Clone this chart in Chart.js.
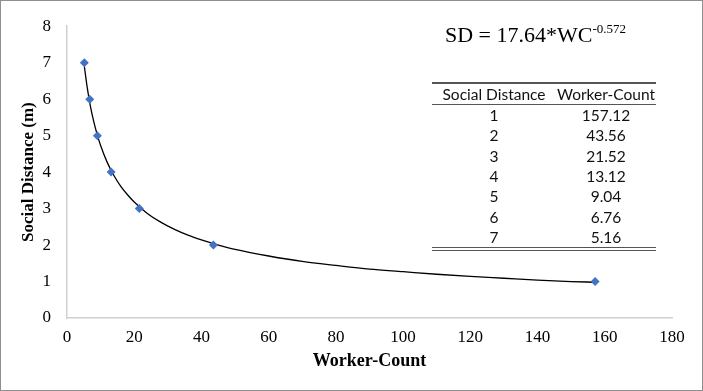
<!DOCTYPE html>
<html>
<head>
<meta charset="utf-8">
<script src="https://cdn.jsdelivr.net/npm/chart.js@4.4.1/dist/chart.umd.min.js"></script>
<style>
  body { margin: 0; background: #fff; }
  #wrap { position: relative; width: 703px; height: 391px; }
  #grafico { position: absolute; left: 0; top: 0; }
  #moldura { position: absolute; inset: 0; border: 1px solid #8f8f8f; box-sizing: border-box; pointer-events: none; }
  #equacao { position: absolute; left: 445px; top: 22px; font-family: "Liberation Serif", serif; font-size: 22px; color: #000; white-space: nowrap; }
  #equacao sup { font-size: 13px; vertical-align: 0; position: relative; top: -9px; }
  #tabela { position: absolute; left: 432px; top: 82px; width: 224px; border-collapse: collapse;
            font-family: Lato, "Open Sans", sans-serif; font-size: 15.5px; color: #111; text-align: center; }
  #tabela th { font-weight: normal; height: 20px; padding: 0; border-top: 2px solid #555; border-bottom: 1px solid #555; }
  #tabela td { height: 20.3px; padding: 0; line-height: 20px; }
  #tabela tr:last-child td { border-bottom: 4px double #555; }
</style>
</head>
<body>
<div id="wrap">
  <canvas id="grafico" width="703" height="391"></canvas>
  <div id="equacao">SD = 17.64*WC<sup>-0.572</sup></div>
  <table id="tabela">
    <thead><tr><th style="width:124px">Social Distance</th><th>Worker-Count</th></tr></thead>
    <tbody id="tbody"></tbody>
  </table>
  <div id="moldura"></div>
</div>
<script>
// dados
const distancia = [1, 2, 3, 4, 5, 6, 7];
const trabalhadores = [157.12, 43.56, 21.52, 13.12, 9.04, 6.76, 5.16];

// curva de tendência lida ao longo da linha preta
const tendenciaX = [5.16, 6, 7, 8, 9, 10, 12, 14, 16, 18, 20, 24, 28, 32, 36, 40, 45, 50, 60, 70, 80, 90, 100, 110, 120, 130, 140, 150, 157.12];
const tendenciaY = [6.90, 6.33, 5.79, 5.37, 5.02, 4.73, 4.26, 3.90, 3.61, 3.38, 3.18, 2.86, 2.62, 2.43, 2.27, 2.14, 2.00, 1.88, 1.70, 1.55, 1.44, 1.34, 1.27, 1.20, 1.14, 1.09, 1.04, 1.00, 0.98];

const ticksX = [0, 20, 40, 60, 80, 100, 120, 140, 160, 180];
const ticksY = [0, 1, 2, 3, 4, 5, 6, 7, 8];

// Preencher tabela
document.getElementById('tbody').innerHTML = distancia.map((d, i) => `
  <tr><td>${d}</td><td>${trabalhadores[i].toFixed(2)}</td></tr>
`).join('');

const fonteSerif = "'Liberation Serif', 'Times New Roman', serif";

new Chart(document.getElementById('grafico'), {
  type: 'scatter',
  data: {
    datasets: [
      {
        label: 'Trend',
        type: 'line',
        data: tendenciaX.map((x, i) => ({ x: x, y: tendenciaY[i] })),
        borderColor: '#000',
        borderWidth: 1.3,
        pointRadius: 0,
        cubicInterpolationMode: 'monotone',
        fill: false,
        order: 2
      },
      {
        label: 'Social Distance',
        data: trabalhadores.map((x, i) => ({ x: x, y: distancia[i] })),
        pointStyle: 'rectRot',
        pointRadius: 4.5,
        backgroundColor: '#4472C4',
        borderColor: '#4472C4',
        borderWidth: 0,
        order: 1
      }
    ]
  },
  options: {
    responsive: false,
    animation: false,
    layout: { padding: { left: 0, top: 17, right: 31, bottom: 0 } },
    plugins: { legend: { display: false }, tooltip: { enabled: false } },
    scales: {
      x: {
        type: 'linear',
        min: 0, max: 180,
        afterBuildTicks: s => { s.ticks = ticksX.map(v => ({ value: v })); },
        afterFit: s => { s.height = 73; },
        grid: { color: 'transparent', drawTicks: false },
        border: { color: '#d0d0d0', width: 1.5 },
        ticks: { padding: 9, color: '#000', font: { family: fonteSerif, size: 17 } },
        title: { display: true, text: 'Worker-Count', color: '#000', padding: { bottom: 19 },
                 font: { family: fonteSerif, size: 18, weight: 'bold' } }
      },
      y: {
        type: 'linear',
        min: 0, max: 8,
        afterBuildTicks: s => { s.ticks = ticksY.map(v => ({ value: v })); },
        afterFit: s => { s.width = 67; },
        grid: { color: 'transparent', drawTicks: false },
        border: { color: '#d0d0d0', width: 1.5 },
        ticks: { padding: 16, color: '#000', font: { family: fonteSerif, size: 17 } },
        title: { display: true, text: 'Social Distance (m)', color: '#000', padding: { top: 18 },
                 font: { family: fonteSerif, size: 17, weight: 'bold' } }
      }
    }
  }
});
</script>
</body>
</html>
